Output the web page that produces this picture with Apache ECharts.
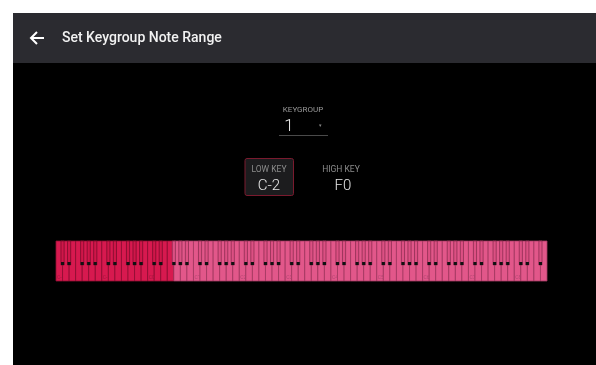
<!DOCTYPE html>
<html><head><meta charset="utf-8">
<script src="https://cdn.jsdelivr.net/npm/echarts@6/dist/echarts.min.js"></script>
<style>html,body{margin:0;padding:0;background:#fff;}#c{width:596px;height:365px;}</style>
</head><body><div id="c"></div>
<script>
// ---- data ----
const titleText = 'Set Keygroup Note Range';
const keygroupLabel = 'KEYGROUP';
const keygroupValue = '1';
const lowKeyLabel = 'LOW KEY';
const highKeyLabel = 'HIGH KEY';
const lowKey = 'C-2';
const highKey = 'F0';
const octaveLabels = ['C-2','C-1','C0','C1','C2','C3','C4','C5','C6','C7','C8'];
const whiteNames = ['C','D','E','F','G','A','B'];
const blackAfter = ['C','D','F','G','A']; // white keys followed by a black key
const totalWhiteKeys = 75;          // C-2 .. G8 (128 notes)
const lowWhiteIndex = 0;            // C-2
const highWhiteIndex = 17;          // F0

// ---- build key tables ----
const whiteKeys = [];
const blackKeys = [];
for (let i = 0; i < totalWhiteKeys; i++) {
  const name = whiteNames[i % 7];
  const oct = Math.floor(i / 7);
  const sel = (i >= lowWhiteIndex && i <= highWhiteIndex) ? 1 : 0;
  whiteKeys.push([i, sel, name === 'C' ? octaveLabels[oct] : '']);
  if (blackAfter.indexOf(name) >= 0 && i + 1 < totalWhiteKeys) {
    const bsel = (i + 1 <= highWhiteIndex && i >= lowWhiteIndex) ? 1 : 0;
    blackKeys.push([i + 1, bsel]);
  }
}

const SEL = '#d7194f', UNSEL = '#e2578a';
const SEL_LINE = '#8f0f33', UNSEL_LINE = '#a43a62';

const chart = echarts.init(document.getElementById('c'), null, {renderer: 'canvas'});
chart.setOption({
  backgroundColor: '#ffffff',
  animation: false,
  grid: {left: 56, right: 49, top: 241, height: 40},
  xAxis: {type: 'value', min: 0, max: totalWhiteKeys, show: false},
  yAxis: {type: 'value', min: 0, max: 1, show: false},
  graphic: [
    {type: 'rect', shape: {x: 13, y: 13, width: 583, height: 352}, style: {fill: '#000'}},
    {type: 'rect', shape: {x: 13, y: 13, width: 583, height: 50}, style: {fill: '#2b2b30'}},
    {type: 'polyline', shape: {points: [[31, 38], [44, 38]]}, style: {stroke: '#fff', lineWidth: 2}},
    {type: 'polyline', shape: {points: [[37, 32], [31, 38], [37, 44]]}, style: {stroke: '#fff', lineWidth: 2, fill: null}},
    {type: 'text', x: 62, y: 38, style: {text: titleText, fill: '#f2f2f2', font: '500 14px Roboto', textVerticalAlign: 'middle'}},
    {type: 'text', x: 303, y: 110, style: {text: keygroupLabel, fill: '#9a9a9a', font: '8px Roboto', textAlign: 'center', textVerticalAlign: 'middle'}},
    {type: 'text', x: 289, y: 127, style: {text: keygroupValue, fill: '#e6e6e6', font: '300 17px Roboto', textAlign: 'center', textVerticalAlign: 'middle'}},
    {type: 'text', x: 320, y: 126, style: {text: '▾', fill: '#888', font: '5px Roboto', textAlign: 'center', textVerticalAlign: 'middle'}},
    {type: 'line', shape: {x1: 279, y1: 135.5, x2: 328, y2: 135.5}, style: {stroke: '#4a4a4a', lineWidth: 1}},
    {type: 'rect', shape: {x: 245, y: 158.5, width: 48.5, height: 37, r: 2}, style: {fill: '#1c1c1e', stroke: '#7a1a2e', lineWidth: 1}},
    {type: 'text', x: 269, y: 170, style: {text: lowKeyLabel, fill: '#8c8c8c', font: '8.5px Roboto', textAlign: 'center', textVerticalAlign: 'middle'}},
    {type: 'text', x: 269, y: 186, style: {text: lowKey, fill: '#e6e6e6', font: '300 15px Roboto', textAlign: 'center', textVerticalAlign: 'middle'}},
    {type: 'text', x: 341, y: 170, style: {text: highKeyLabel, fill: '#8c8c8c', font: '8.5px Roboto', textAlign: 'center', textVerticalAlign: 'middle'}},
    {type: 'text', x: 343, y: 186, style: {text: highKey, fill: '#e6e6e6', font: '300 15px Roboto', textAlign: 'center', textVerticalAlign: 'middle'}}
  ],
  series: [
    {
      type: 'custom', z: 2, clip: false,
      data: whiteKeys,
      renderItem: function (params, api) {
        const i = api.value(0), sel = api.value(1);
        const lab = whiteKeys[params.dataIndex][2];
        const p0 = api.coord([i, 1]), p1 = api.coord([i + 1, 0]);
        const children = [{
          type: 'rect',
          shape: {x: p0[0], y: p0[1], width: p1[0] - p0[0], height: p1[1] - p0[1]},
          style: {fill: sel ? SEL : UNSEL, stroke: sel ? SEL_LINE : UNSEL_LINE, lineWidth: 0.8}
        }];
        if (lab) {
          children.push({type: 'text', x: p0[0] + 1, y: p1[1] - 3,
            style: {text: lab, fill: sel ? '#a3143e' : '#b24672', font: '5px Roboto', textVerticalAlign: 'middle'}});
        }
        return {type: 'group', children: children};
      }
    },
    {
      type: 'custom', z: 3, clip: false,
      data: blackKeys,
      renderItem: function (params, api) {
        const b = api.value(0), sel = api.value(1);
        const w = 0.48;
        const p0 = api.coord([b - w / 2, 1]), p1 = api.coord([b + w / 2, 0.4]);
        const wpx = p1[0] - p0[0];
        return {type: 'group', children: [
          {type: 'rect', shape: {x: p0[0], y: p0[1], width: wpx, height: p1[1] - p0[1]},
           style: {fill: sel ? '#cf1649' : '#dc5083', stroke: sel ? '#7c0c2c' : '#8e2d52', lineWidth: 0.8}},
          {type: 'rect', shape: {x: p0[0], y: p1[1] - 3, width: wpx, height: 3},
           style: {fill: '#111'}}
        ]};
      }
    }
  ]
});
</script>
</body></html>
